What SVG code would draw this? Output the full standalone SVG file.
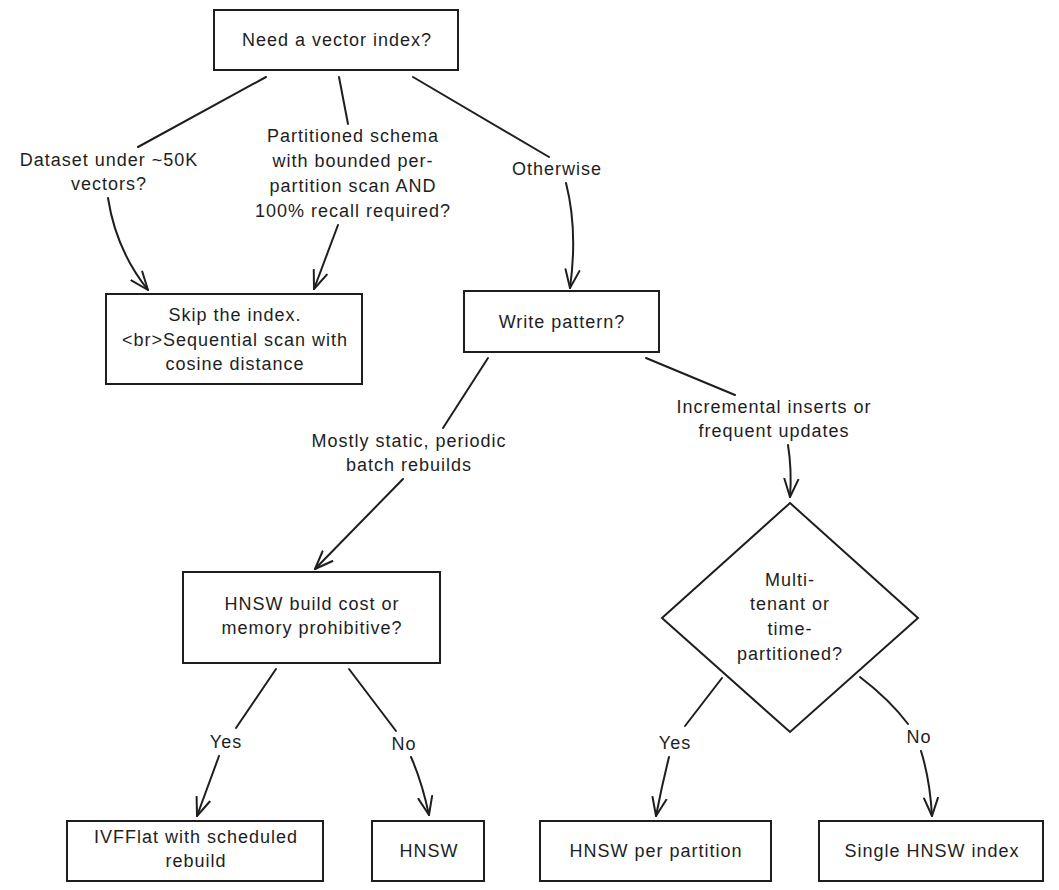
<svg xmlns="http://www.w3.org/2000/svg" width="1059" height="890" viewBox="0 0 1059 890">
<defs>
<style>
.n{fill:#ffffff;stroke:#1e1e1e;stroke-width:2}
.t{font-family:"Liberation Sans",Arial,sans-serif;font-size:18px;fill:#1e1e1e;text-anchor:middle;dominant-baseline:central;letter-spacing:1px}
.e{fill:none;stroke:#1e1e1e;stroke-width:2;stroke-linecap:round}
</style>
<marker id="ah" viewBox="0 0 20 20" refX="19" refY="10" markerWidth="20" markerHeight="20" markerUnits="userSpaceOnUse" orient="auto">
<path d="M1,3 L19,10 L1,17" fill="none" stroke="#1e1e1e" stroke-width="2" stroke-linecap="round" stroke-linejoin="round"/>
</marker>
</defs>
<rect width="1059" height="890" fill="#ffffff"/>
<g id="connectors">
<path class="e" d="M266,77 L138,147"/>
<path class="e" d="M108,198 Q116,250 148,290" marker-end="url(#ah)"/>
<path class="e" d="M339,77 L348,124"/>
<path class="e" d="M338,225 L314,289" marker-end="url(#ah)"/>
<path class="e" d="M413,77 L549,157"/>
<path class="e" d="M566,183 Q578,230 570,288" marker-end="url(#ah)"/>
<path class="e" d="M488,358 L443,428"/>
<path class="e" d="M403,479 L315,569" marker-end="url(#ah)"/>
<path class="e" d="M646,358 L735,395"/>
<path class="e" d="M788,445 Q792,470 790,497" marker-end="url(#ah)"/>
<path class="e" d="M276,669 L236,728"/>
<path class="e" d="M219,756 L197,816" marker-end="url(#ah)"/>
<path class="e" d="M349,669 L396,731"/>
<path class="e" d="M411,757 Q422,782 429,815" marker-end="url(#ah)"/>
<path class="e" d="M722,678 L685,726"/>
<path class="e" d="M669,757 Q662,785 656,816" marker-end="url(#ah)"/>
<path class="e" d="M860,677 Q890,700 908,724"/>
<path class="e" d="M921,751 Q930,780 932,816" marker-end="url(#ah)"/>
<text class="t" x="109" y="160">Dataset under ~50K</text>
<text class="t" x="109" y="184">vectors?</text>
<text class="t" x="353" y="136">Partitioned schema</text>
<text class="t" x="353" y="161">with bounded per-</text>
<text class="t" x="353" y="186">partition scan AND</text>
<text class="t" x="353" y="211">100% recall required?</text>
<text class="t" x="557" y="169">Otherwise</text>
<text class="t" x="409" y="441">Mostly static, periodic</text>
<text class="t" x="409" y="465">batch rebuilds</text>
<text class="t" x="774" y="407">Incremental inserts or</text>
<text class="t" x="774" y="431">frequent updates</text>
<text class="t" x="226" y="742">Yes</text>
<text class="t" x="404" y="744">No</text>
<text class="t" x="675" y="743">Yes</text>
<text class="t" x="919" y="737">No</text>
</g>
<g id="need-index">
<rect class="n" x="214" y="10" width="244" height="60"/>
<text class="t" x="337" y="40">Need a vector index?</text>
</g>
<g id="skip-index">
<rect class="n" x="106" y="294" width="256" height="90"/>
<text class="t" x="235" y="315">Skip the index.</text>
<text class="t" x="235" y="340">&lt;br&gt;Sequential scan with</text>
<text class="t" x="235" y="364">cosine distance</text>
</g>
<g id="write-pattern">
<rect class="n" x="464" y="291" width="195" height="61"/>
<text class="t" x="562" y="322">Write pattern?</text>
</g>
<g id="hnsw-cost">
<rect class="n" x="183" y="572" width="257" height="91"/>
<text class="t" x="312" y="604">HNSW build cost or</text>
<text class="t" x="312" y="628">memory prohibitive?</text>
</g>
<g id="multi-tenant">
<polygon class="n" points="790,503 918,618 790,732 662,618"/>
<text class="t" x="790" y="580">Multi-</text>
<text class="t" x="790" y="604">tenant or</text>
<text class="t" x="790" y="629">time-</text>
<text class="t" x="790" y="654">partitioned?</text>
</g>
<g id="ivfflat">
<rect class="n" x="67" y="821" width="256" height="60"/>
<text class="t" x="196" y="837">IVFFlat with scheduled</text>
<text class="t" x="196" y="861">rebuild</text>
</g>
<g id="hnsw">
<rect class="n" x="372" y="821" width="112" height="60"/>
<text class="t" x="429" y="851">HNSW</text>
</g>
<g id="hnsw-per-partition">
<rect class="n" x="540" y="821" width="231" height="60"/>
<text class="t" x="656" y="851">HNSW per partition</text>
</g>
<g id="single-hnsw">
<rect class="n" x="819" y="821" width="224" height="60"/>
<text class="t" x="932" y="851">Single HNSW index</text>
</g>
</svg>
